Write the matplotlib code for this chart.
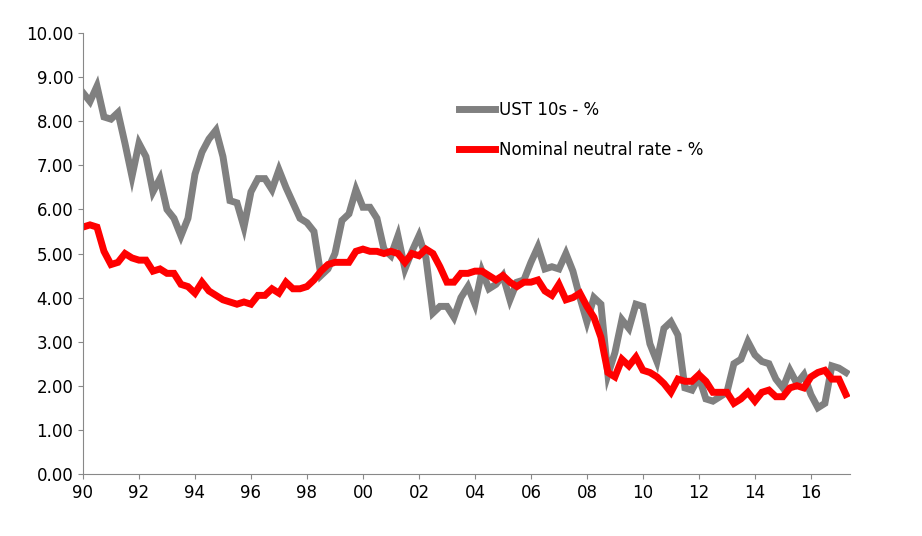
import matplotlib
matplotlib.use("Agg")
import matplotlib.pyplot as plt
import numpy as np

ust = [8.65,8.45,8.8,8.1, 8.05,8.2,7.5,6.75, 7.5,7.2,6.4,6.7, 6.0,5.8,5.4,5.8,
       6.8,7.3,7.6,7.8, 7.2,6.2,6.15,5.6, 6.4,6.7,6.7,6.45, 6.9,6.5,6.15,5.8,
       5.7,5.5,4.5,4.65, 5.0,5.75,5.9,6.45, 6.05,6.05,5.8,5.1, 4.95,5.4,4.65,5.05,
       5.4,4.9,3.65,3.8, 3.8,3.55,4.0,4.25, 3.85,4.6,4.2,4.3, 4.5,3.95,4.35,4.4,
       4.8,5.15,4.65,4.7, 4.65,5.0,4.6,4.0, 3.45,4.0,3.85,2.25, 2.75,3.5,3.3,3.85,
       3.8,2.95,2.55,3.3, 3.45,3.15,1.95,1.9, 2.2,1.7,1.65,1.75, 1.85,2.5,2.6,3.0,
       2.7,2.55,2.5,2.15, 1.95,2.35,2.05,2.25, 1.8,1.5,1.6,2.45, 2.4,2.3]
neutral = [5.6,5.65,5.6,5.05, 4.75,4.8,5.0,4.9, 4.85,4.85,4.6,4.65, 4.55,4.55,4.3,4.25,
       4.1,4.35,4.15,4.05, 3.95,3.9,3.85,3.9, 3.85,4.05,4.05,4.2, 4.1,4.35,4.2,4.2,
       4.25,4.4,4.6,4.75, 4.8,4.8,4.8,5.05, 5.1,5.05,5.05,5.0, 5.05,5.0,4.8,5.0,
       4.95,5.1,5.0,4.7, 4.35,4.35,4.55,4.55, 4.6,4.6,4.5,4.4, 4.5,4.35,4.25,4.35,
       4.35,4.4,4.15,4.05, 4.3,3.95,4.0,4.1, 3.8,3.55,3.1,2.3, 2.2,2.6,2.45,2.65,
       2.35,2.3,2.2,2.05, 1.85,2.15,2.1,2.1, 2.25,2.1,1.85,1.85, 1.85,1.6,1.7,1.85,
       1.65,1.85,1.9,1.75, 1.75,1.95,2.0,1.95, 2.2,2.3,2.35,2.15, 2.15,1.8]
tick_years = list(range(1990, 2017, 2))
tick_labels = [f"{y % 100:02d}" for y in tick_years]

t = 1990 + np.arange(len(ust)) / 4.0
fig = plt.figure(figsize=(9.22, 5.36), dpi=100)
ax = fig.add_axes([0.09, 0.116, 0.832, 0.822])
ax.plot(t, ust, color="#808080", lw=5, label="UST 10s - %", solid_joinstyle="miter")
ax.plot(t, neutral, color="#ff0000", lw=5, label="Nominal neutral rate - %", solid_joinstyle="miter")
ax.set_xlim(1990, 2017.4)
ax.set_ylim(0, 10)
ax.set_yticks(np.arange(0, 10.01, 1))
ax.set_yticklabels([f"{v:.2f}" for v in np.arange(0, 10.01, 1)])
ax.set_xticks(tick_years)
ax.set_xticklabels(tick_labels)
for s in ["top", "right"]:
    ax.spines[s].set_visible(False)
for s in ["left", "bottom"]:
    ax.spines[s].set_color("#888888")
ax.tick_params(colors="#888888", labelcolor="black", labelsize=12, direction="out")
ax.legend(loc="upper left", bbox_to_anchor=(0.47, 0.88), frameon=False, fontsize=12,
          handlelength=2.2, labelspacing=1.3, handletextpad=0.2)
fig.savefig("out.png")
